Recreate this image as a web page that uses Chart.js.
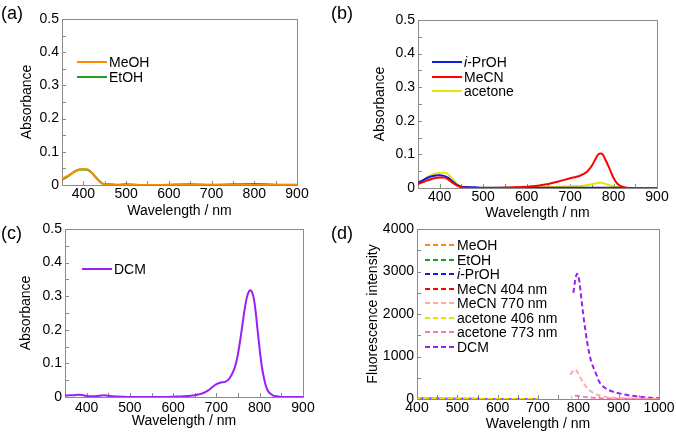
<!DOCTYPE html>
<html>
<head>
<meta charset="utf-8">
<script src="https://cdn.jsdelivr.net/npm/chart.js@4.4.0/dist/chart.umd.min.js"></script>
<style>
  body { margin: 0; width: 676px; height: 435px; background: #fff; position: relative; overflow: hidden;
         font-family: "Liberation Sans", Arial, sans-serif; color: #000; }
  .panel { position: absolute; }
  .tag { position: absolute; font-size: 18px; line-height: 20px; }
  .legend { position: absolute; font-size: 14px; }
  .legend .row { height: 14.5px; display: flex; align-items: center; white-space: nowrap; }
  .legend svg { flex: none; margin-right: 2px; }
</style>
</head>
<body>
<script>
// (a) absorbance, MeOH / EtOH
const wlA = [350, 360, 370, 380, 390, 400, 410, 420, 430, 440, 450, 460, 480, 500, 550, 600, 650, 700, 750, 800, 850, 900];
const meohA = [0.019, 0.025, 0.032, 0.040, 0.046, 0.048, 0.047, 0.037, 0.021, 0.008, 0.002, 0.001, 0, 0, 0, 0, 0, 0, 0, 0, 0, 0];
const etohA = [0.017, 0.023, 0.032, 0.041, 0.047, 0.047, 0.046, 0.036, 0.022, 0.009, 0.002, 0.002, 0.001, 0.002, -0.001, 0.001, 0.002, 0.001, 0.002, 0.003, 0.001, 0.001];

// (b) absorbance, i-PrOH / MeCN / acetone
const wlB = [350, 360, 370, 380, 390, 400, 410, 420, 430, 440, 450, 460, 480, 500, 550, 600, 625, 650, 675, 700, 710, 720, 730, 740, 750, 760, 765, 770, 775, 780, 790, 800, 810, 820, 830, 850, 900];
const iprohB = [0.016, 0.022, 0.029, 0.034, 0.037, 0.038, 0.036, 0.030, 0.019, 0.009, 0.004, 0.003, 0.002, 0.001, 0.001, 0.001, 0.001, 0.001, 0.001, 0.001, 0.001, 0.001, 0.001, 0.001, 0.001, 0.001, 0.001, 0.001, 0.001, 0.001, 0.001, 0.001, 0.001, 0, 0, 0, 0];
const mecnB = [0.012, 0.017, 0.022, 0.026, 0.030, 0.031, 0.031, 0.025, 0.015, 0.007, 0.002, 0.001, 0, 0, 0.001, 0.004, 0.007, 0.012, 0.020, 0.029, 0.032, 0.035, 0.041, 0.050, 0.066, 0.090, 0.100, 0.103, 0.100, 0.088, 0.060, 0.030, 0.011, 0.004, 0.001, 0, 0];
const acetoneB = [0.014, 0.022, 0.031, 0.038, 0.043, 0.045, 0.046, 0.040, 0.026, 0.011, 0.004, 0.002, 0.001, 0.001, 0.001, 0.002, 0.002, 0.003, 0.004, 0.005, 0.006, 0.006, 0.007, 0.009, 0.011, 0.014, 0.015, 0.016, 0.015, 0.013, 0.009, 0.005, 0.002, 0.001, 0, 0, 0];

// (c) absorbance, DCM
const wlC = [350, 360, 370, 380, 390, 400, 420, 440, 450, 460, 480, 500, 550, 600, 625, 650, 660, 670, 680, 690, 700, 710, 720, 730, 740, 745, 750, 755, 760, 765, 770, 775, 778, 782, 786, 790, 795, 800, 805, 810, 815, 820, 830, 840, 850, 900];
const dcmC = [0.004, 0.005, 0.005, 0.007, 0.006, 0.003, 0.002, 0.005, 0.004, 0.002, 0.001, 0, 0, 0.001, 0.002, 0.005, 0.008, 0.012, 0.019, 0.029, 0.038, 0.043, 0.045, 0.055, 0.080, 0.100, 0.130, 0.170, 0.215, 0.260, 0.295, 0.314, 0.318, 0.313, 0.295, 0.260, 0.200, 0.140, 0.090, 0.055, 0.030, 0.016, 0.005, 0.002, 0, 0];

// (d) fluorescence
const wlLowD = [400, 450, 500, 550, 600, 650, 700];
const meohD = [6, 4, 3, 3, 2, 2, 2];
const etohD = [5, 4, 3, 2, 2, 2, 2];
const iprohD = [6, 5, 3, 3, 2, 2, 2];
const mecn404D = [4, 3, 2, 2, 2, 1, 1];
const acetone406D = [7, 5, 4, 3, 3, 2, 2];
const wlMecn770D = [780, 785, 790, 795, 800, 810, 820, 830, 840, 850, 870, 900, 950, 1000];
const mecn770D = [570, 640, 690, 670, 600, 420, 280, 190, 130, 90, 50, 25, 10, 5];
const wlAcetone773D = [782, 790, 796, 805, 815, 830, 850, 880, 920, 1000];
const acetone773D = [40, 65, 75, 65, 50, 35, 20, 10, 5, 2];
const wlDcmD = [787, 792, 797, 802, 807, 812, 817, 822, 827, 832, 840, 845, 850, 857, 865, 873, 885, 898, 915, 931, 950, 964, 980, 1000];
const dcmD = [2450, 2780, 2950, 2800, 2400, 2000, 1650, 1330, 1080, 880, 680, 570, 440, 336, 270, 220, 175, 140, 105, 78, 55, 40, 28, 18];

// tick labels
const absLabels = [0, 0.1, 0.2, 0.3, 0.4, 0.5];
const flLabels = [0, 1000, 2000, 3000, 4000];
const wlLabelsAbs = [400, 500, 600, 700, 800, 900];
const wlLabelsFl = [400, 500, 600, 700, 800, 900, 1000];

Chart.defaults.font.family = '"Liberation Sans", Arial, sans-serif';
Chart.defaults.font.size = 14;
Chart.defaults.color = '#000';

const pts = (xs, ys) => xs.map((x, i) => ({ x: x, y: ys[i] }));
const pick = (list, v) => {
  const hit = list.find(l => Math.abs(l - v) < 1e-9);
  return hit === undefined ? '' : String(hit);
};

// frame + inward ticks, drawn under the curves
const frame = {
  id: 'frame',
  beforeDatasetsDraw(chart) {
    const { ctx, chartArea: a, scales: { x, y } } = chart;
    ctx.save();
    ctx.strokeStyle = '#8a8a8a';
    ctx.lineWidth = 1;
    ctx.beginPath();
    x.ticks.forEach(t => {
      const px = Math.round(x.getPixelForValue(t.value)) + 0.5;
      ctx.moveTo(px, a.bottom); ctx.lineTo(px, a.bottom - 4);
    });
    y.ticks.forEach(t => {
      const py = Math.round(y.getPixelForValue(t.value)) + 0.5;
      ctx.moveTo(a.left, py); ctx.lineTo(a.left + 4, py);
    });
    ctx.stroke();
    ctx.strokeRect(Math.round(a.left) + 0.5, Math.round(a.top) + 0.5,
                   Math.round(a.right - a.left), Math.round(a.bottom - a.top));
    ctx.restore();
  }
};

function panel(p) {
  const H = Math.round(p.xTitleY + 9.4 - p.y0);
  const box = document.createElement('div');
  box.className = 'panel';
  box.style.left = p.x0 + 'px';
  box.style.top = p.y0 + 'px';
  const cv = document.createElement('canvas');
  cv.width = 338; cv.height = H;
  box.appendChild(cv);
  document.body.appendChild(box);

  const tag = document.createElement('div');
  tag.className = 'tag';
  tag.textContent = p.tag;
  tag.style.left = p.tagX + 'px';
  tag.style.top = (p.tagY - 10) + 'px';
  document.body.appendChild(tag);

  new Chart(cv, {
    type: 'line',
    data: {
      datasets: p.series.map((s, i) => ({
        label: s.label,
        data: s.data,
        order: s.order || 0,
        borderColor: s.color,
        borderDash: s.dash ? [5, 3] : [],
        borderDashOffset: s.dash ? i * 2 : 0,
        borderWidth: 2,
        pointRadius: 0,
        fill: false,
        cubicInterpolationMode: 'monotone'
      }))
    },
    options: {
      responsive: false,
      animation: false,
      layout: { padding: { left: 0, bottom: 0, top: p.plot[1] - p.y0, right: p.x0 + 338 - p.plot[2] } },
      plugins: { legend: { display: false }, tooltip: { enabled: false } },
      scales: {
        x: {
          type: 'linear', min: p.xMin, max: p.xMax,
          grid: { display: false, drawTicks: false }, border: { display: false },
          ticks: { stepSize: 50, autoSkip: false, maxRotation: 0, padding: p.xPad,
                   callback: v => pick(p.xLabels, v) },
          title: { display: true, text: 'Wavelength / nm',
                   padding: { top: 0, bottom: p.y0 + H - p.xTitleY - 8.4 } },
          afterFit: s => { s.height = p.y0 + H - p.plot[3]; }
        },
        y: {
          type: 'linear', min: 0, max: p.yMax,
          grid: { display: false, drawTicks: false }, border: { display: false },
          ticks: { stepSize: p.yStep, autoSkip: false, padding: 3,
                   callback: v => pick(p.yLabels, v) },
          title: { display: true, text: p.yTitle,
                   padding: { top: p.yTitleX - p.x0 - 8.4, bottom: 0 } },
          afterFit: s => { s.width = p.plot[0] - p.x0; }
        }
      }
    },
    plugins: [frame]
  });

  // legend inside the plot
  const lg = document.createElement('div');
  lg.className = 'legend';
  lg.style.left = p.legend[0] + 'px';
  lg.style.top = (p.legend[1] - 7.25) + 'px';
  p.series.forEach(s => {
    const row = document.createElement('div');
    row.className = 'row';
    const dash = s.dash ? ' stroke-dasharray="5 3"' : '';
    const name = s.label.startsWith('i-') ? '<i>i</i>' + s.label.slice(1) : s.label;
    row.innerHTML = '<svg width="30" height="4"><line x1="0" y1="2" x2="30" y2="2" stroke="' +
      s.color + '" stroke-width="2"' + dash + '/></svg><span>' + name + '</span>';
    lg.appendChild(row);
  });
  document.body.appendChild(lg);
}

panel({
  tag: '(a)', tagX: 1, tagY: 13,
  x0: 0, y0: 0, plot: [62, 19, 297, 185], yTitleX: 27, xTitleY: 211, xPad: 1,
  xMin: 350, xMax: 900, xLabels: wlLabelsAbs, yMax: 0.5, yStep: 0.05, yLabels: absLabels,
  yTitle: 'Absorbance', legend: [77, 62],
  series: [
    { label: 'MeOH', color: '#ff8a00', data: pts(wlA, meohA) },
    { label: 'EtOH', color: '#1f9e1f', data: pts(wlA, etohA) }
  ]
});

panel({
  tag: '(b)', tagX: 331, tagY: 13,
  x0: 338, y0: 0, plot: [418, 20, 657, 188], yTitleX: 380, xTitleY: 213, xPad: 1,
  xMin: 350, xMax: 900, xLabels: wlLabelsAbs, yMax: 0.5, yStep: 0.05, yLabels: absLabels,
  yTitle: 'Absorbance', legend: [432, 62],
  series: [
    { label: 'i-PrOH', color: '#0a1ee6', data: pts(wlB, iprohB) },
    { label: 'MeCN', color: '#ff0000', data: pts(wlB, mecnB), order: -1 },
    { label: 'acetone', color: '#e6e600', data: pts(wlB, acetoneB) }
  ]
});

panel({
  tag: '(c)', tagX: 1, tagY: 233,
  x0: 0, y0: 215, plot: [65, 229, 303, 397], yTitleX: 26, xTitleY: 421, xPad: 3,
  xMin: 350, xMax: 900, xLabels: wlLabelsAbs, yMax: 0.5, yStep: 0.05, yLabels: absLabels,
  yTitle: 'Absorbance', legend: [82, 269],
  series: [
    { label: 'DCM', color: '#9a1ef5', data: pts(wlC, dcmC) }
  ]
});

panel({
  tag: '(d)', tagX: 331, tagY: 233,
  x0: 338, y0: 215, plot: [417, 229, 659, 399], yTitleX: 373, xTitleY: 424, xPad: 1,
  xMin: 400, xMax: 1000, xLabels: wlLabelsFl, yMax: 4000, yStep: 500, yLabels: flLabels,
  yTitle: 'Fluorescence intensity', legend: [425, 245],
  series: [
    { label: 'MeOH', color: '#ff8a00', dash: true, data: pts(wlLowD, meohD) },
    { label: 'EtOH', color: '#1f9e1f', dash: true, data: pts(wlLowD, etohD) },
    { label: 'i-PrOH', color: '#0a1ee6', dash: true, data: pts(wlLowD, iprohD) },
    { label: 'MeCN 404 nm', color: '#ff0000', dash: true, data: pts(wlLowD, mecn404D) },
    { label: 'MeCN 770 nm', color: '#ffaaaa', dash: true, data: pts(wlMecn770D, mecn770D) },
    { label: 'acetone 406 nm', color: '#e6e600', dash: true, data: pts(wlLowD, acetone406D), order: -1 },
    { label: 'acetone 773 nm', color: '#ff77b0', dash: true, data: pts(wlAcetone773D, acetone773D) },
    { label: 'DCM', color: '#9a1ef5', dash: true, data: pts(wlDcmD, dcmD) }
  ]
});
</script>
</body>
</html>
